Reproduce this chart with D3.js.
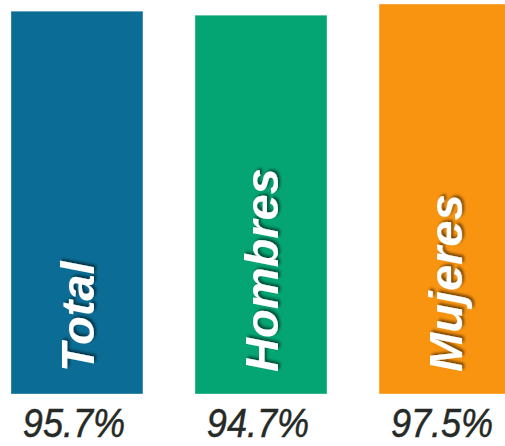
<!DOCTYPE html>
<html>
<head>
<meta charset="utf-8">
<script src="https://cdn.jsdelivr.net/npm/d3@7"></script>
<style>
  body { margin: 0; background: #fff; }
  svg { display: block; }
</style>
</head>
<body>
<div id="wrapper"></div>
<script>
const categories = ['Total', 'Hombres', 'Mujeres']
const values = [95.7, 94.7, 97.5]
const valueLabels = ['95.7%', '94.7%', '97.5%']
const colors = ['#0b6d95', '#05a573', '#f99410']

function drawBars() {
  const dimensions = {
    width: 505,
    height: 446,
    margin: { top: 0, right: -6, bottom: 52, left: 11 },
  }
  dimensions.boundedWidth = dimensions.width
    - dimensions.margin.left
    - dimensions.margin.right
  dimensions.boundedHeight = dimensions.height
    - dimensions.margin.top
    - dimensions.margin.bottom

  const data = categories.map((c, i) => ({ name: c, value: values[i], label: valueLabels[i], color: colors[i] }))

  const wrapper = d3.select('#wrapper')
    .append('svg')
      .attr('width', dimensions.width)
      .attr('height', dimensions.height)

  const defs = wrapper.append('defs')
  const shadow = defs.append('filter')
      .attr('id', 'shadow')
      .attr('x', '-20%').attr('y', '-20%')
      .attr('width', '140%').attr('height', '140%')
  shadow.append('feDropShadow')
      .attr('dx', 2)
      .attr('dy', 2)
      .attr('stdDeviation', 1.5)
      .attr('flood-color', '#000')
      .attr('flood-opacity', 0.55)

  const bounds = wrapper.append('g')
      .attr('transform', `translate(${dimensions.margin.left},${dimensions.margin.top})`)

  const xScale = d3.scaleBand()
      .domain(categories)
      .range([0, dimensions.boundedWidth])
      .paddingInner(0.283)
      .paddingOuter(0)

  const yScale = d3.scaleLinear()
      .domain([0, 98.5])
      .range([dimensions.boundedHeight, 0])

  const groups = bounds.selectAll('g.bar')
    .data(data)
    .join('g')
      .attr('class', 'bar')

  groups.append('rect')
      .attr('x', d => xScale(d.name))
      .attr('y', d => yScale(d.value))
      .attr('width', xScale.bandwidth())
      .attr('height', d => dimensions.boundedHeight - yScale(d.value))
      .attr('fill', d => d.color)
      .attr('stroke', 'rgba(255,255,255,0.35)')
      .attr('stroke-width', 1)

  // category name, rotated, inside the bar
  groups.append('text')
      .attr('transform', d => `translate(${xScale(d.name) + xScale.bandwidth() / 2 + 17},${dimensions.boundedHeight - 22}) rotate(-90)`)
      .attr('text-anchor', 'start')
      .attr('fill', '#fff')
      .attr('filter', 'url(#shadow)')
      .style('font-family', '"Liberation Sans", Arial, sans-serif')
      .style('font-weight', 'bold')
      .style('font-style', 'italic')
      .style('font-size', '47px')
      .text(d => d.name)

  // value under the bar (slightly condensed)
  groups.append('text')
      .attr('transform', d => `translate(${xScale(d.name) + xScale.bandwidth() / 2 - 3},${dimensions.boundedHeight + 43}) scale(0.88,1)`)
      .attr('text-anchor', 'middle')
      .attr('fill', '#262a26')
      .attr('stroke', '#262a26')
      .attr('stroke-width', 0.5)
      .style('font-family', '"Liberation Sans", Arial, sans-serif')
      .style('font-style', 'italic')
      .style('font-size', '41px')
      .text(d => d.label)
}

drawBars()
</script>
</body>
</html>
